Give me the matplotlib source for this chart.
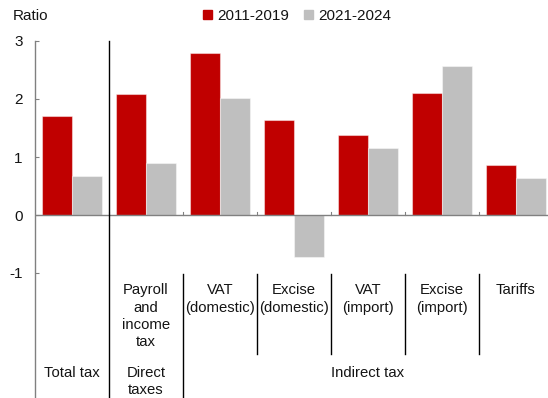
import matplotlib
matplotlib.use("Agg")
import matplotlib.pyplot as plt
from matplotlib.patches import Patch

plt.rcParams['font.family'] = ['Liberation Sans', 'DejaVu Sans']

categories = ["Total tax", "Payroll\nand\nincome\ntax", "VAT\n(domestic)", "Excise\n(domestic)",
              "VAT\n(import)", "Excise\n(import)", "Tariffs"]
series_2011_2019 = [1.70, 2.09, 2.79, 1.64, 1.38, 2.11, 0.87]
series_2021_2024 = [0.68, 0.90, 2.01, -0.73, 1.15, 2.57, 0.63]
groups = [("Total tax", 0, 0), ("Direct\ntaxes", 1, 1), ("Indirect tax", 2, 6)]
yticks = [-1, 0, 1, 2, 3]

RED = "#C00000"
GREY = "#BFBFBF"
TXT = "#141414"

W, H = 548, 398
fig = plt.figure(figsize=(W / 100, H / 100), dpi=100)
# axes: top at 3 (y=41px), 58 px per unit, left spine at x=35px
top_px, unit_px, left_px = 41, 58.0, 35
ymax = 3
ymin = ymax - (H - top_px) / unit_px
ax = fig.add_axes([left_px / W, 0, (74 * 7) / W, (H - top_px) / H])
ax.set_xlim(-0.5, len(categories) - 0.5)
ax.set_ylim(ymin, ymax)

x = list(range(len(categories)))
bw = 0.4
ax.bar([i - bw / 2 for i in x], series_2011_2019, width=bw, color=RED,
       edgecolor=(1, 1, 1, 0.45), linewidth=0.8, zorder=2)
ax.bar([i + bw / 2 for i in x], series_2021_2024, width=bw, color=GREY,
       edgecolor=(1, 1, 1, 0.45), linewidth=0.8, zorder=2)

# spines
for s in ["top", "right", "bottom"]:
    ax.spines[s].set_visible(False)
ax.spines["left"].set_color("#808080")
ax.spines["left"].set_linewidth(1.0)
ax.axhline(0, color="#808080", lw=1.0, zorder=3)

ax.set_yticks(yticks)
ax.set_yticklabels([str(t) for t in yticks], fontsize=11, color=TXT)
ax.tick_params(axis="y", direction="in", length=3, color="#808080", pad=9)
ax.set_xticks([])

# small ticks on zero line at group boundaries
for b in range(1, len(categories)):
    ax.plot([b - 0.5, b - 0.5], [0, 0.05], color="#808080", lw=0.8, zorder=3)

# separators
ax.plot([0.5, 0.5], [ymax, ymin], color="black", lw=1.0, clip_on=False, zorder=4)
ax.plot([1.5, 1.5], [-1.01, ymin], color="black", lw=1.0, clip_on=False, zorder=4)
for b in range(2, len(categories)):
    ax.plot([b + 0.5, b + 0.5], [-1.01, -2.40], color="black", lw=1.0, clip_on=False, zorder=4)

# category labels
for i, lab in enumerate(categories):
    if i == 0:
        continue
    ax.text(i, -1.18, lab, ha="center", va="top", fontsize=10.7, color=TXT,
            linespacing=1.3, clip_on=False)

# group labels
for lab, a, b in groups:
    ax.text((a + b) / 2, -2.60, lab, ha="center", va="top", fontsize=10.7, color=TXT,
            linespacing=1.3, clip_on=False)

fig.text(13 / W, 1 - 16 / H, "Ratio", ha="left", va="center", fontsize=11, color=TXT)

handles = [Patch(color=RED, label="2011-2019"), Patch(color=GREY, label="2021-2024")]
fig.legend(handles=handles, loc="center", bbox_to_anchor=(297 / W, 1 - 16 / H), ncol=2,
           frameon=False, fontsize=11, handlelength=0.6, handleheight=0.6,
           handletextpad=0.3, columnspacing=1.0, labelcolor=TXT)

fig.savefig("out.png", dpi=100)
